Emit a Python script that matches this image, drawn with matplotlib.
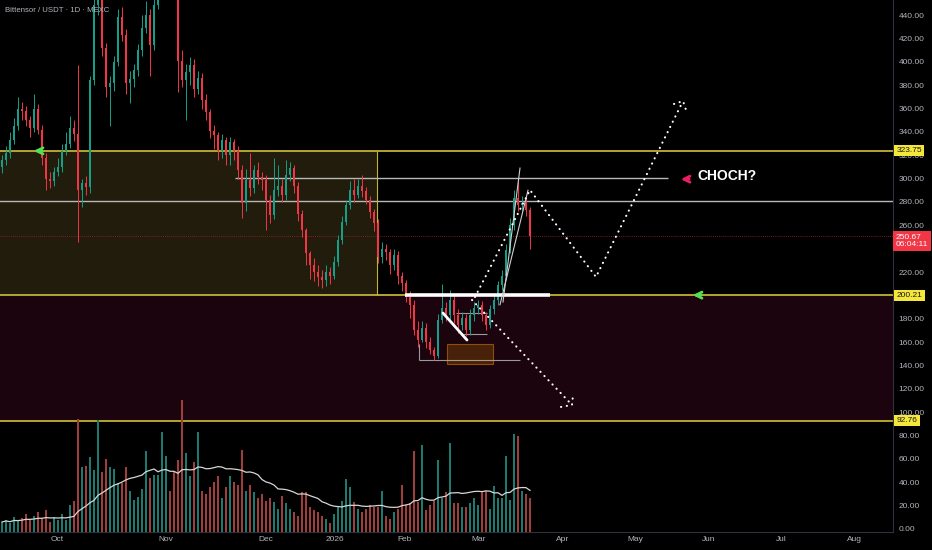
import numpy as np
import pandas as pd
import matplotlib
matplotlib.use("Agg")
import matplotlib.pyplot as plt
import matplotlib.transforms as mtransforms
from matplotlib.patches import Rectangle

# daily candles (bar index 0 = left edge)
first_open = 310
closes = [316, 322, 333, 345, 360, 358, 350, 343, 360, 342,
          318, 300, 298, 306, 310, 324, 330, 343, 338, 290,
          296, 293, 384, 449, 455, 412, 378, 382, 400, 438,
          423, 382, 385, 393, 410, 429, 440, 414, 449, 462,
          475, 490, 480, 470, 401, 384, 391, 397, 377, 386,
          367, 357, 341, 337, 324, 333, 320, 331, 324, 307,
          279, 299, 292, 307, 301, 299, 282, 269, 290, 294,
          286, 303, 309, 294, 270, 256, 236, 226, 220, 216,
          213, 220, 217, 229, 247, 263, 277, 290, 286, 294,
          289, 282, 271, 262, 233, 240, 237, 226, 235, 217,
          211, 199, 192, 170, 162, 172, 160, 153, 148, 179,
          189, 183, 196, 183, 175, 181, 170, 183, 189, 192,
          183, 175, 188, 196, 209, 217, 239, 260, 283, 277,
          279, 273, 250.67]
highs = [320, 328, 340, 352, 370, 366, 362, 354, 372, 364,
         346, 322, 306, 310, 318, 330, 340, 354, 350, 397,
         300, 302, 388, 458, 470, 460, 416, 388, 405, 445,
         447, 428, 392, 398, 415, 440, 452, 445, 460, 475,
         488, 505, 498, 488, 475, 410, 398, 404, 402, 392,
         390, 372, 360, 346, 340, 338, 336, 336, 334, 328,
         312, 308, 322, 312, 314, 306, 303, 286, 318, 312,
         300, 316, 314, 312, 297, 273, 258, 238, 232, 226,
         222, 226, 224, 234, 252, 268, 282, 298, 300, 300,
         303, 293, 285, 274, 265, 246, 244, 240, 240, 238,
         220, 213, 204, 196, 178, 178, 176, 164, 156, 184,
         210, 194, 205, 200, 188, 186, 184, 188, 194, 196,
         195, 186, 192, 200, 212, 222, 244, 266, 290, 300,
         285, 284, 276]
lows = [305, 312, 318, 330, 342, 350, 345, 336, 340, 338,
        312, 290, 292, 294, 302, 306, 320, 326, 332, 246,
        276, 286, 288, 380, 440, 405, 370, 345, 375, 396,
        418, 372, 365, 378, 388, 405, 425, 388, 410, 445,
        455, 470, 468, 458, 374, 378, 350, 380, 370, 372,
        360, 350, 335, 325, 316, 318, 312, 312, 316, 300,
        266, 272, 285, 288, 295, 290, 256, 262, 265, 285,
        280, 282, 298, 288, 264, 250, 226, 214, 212, 208,
        206, 208, 210, 214, 225, 244, 260, 274, 280, 283,
        284, 278, 266, 255, 228, 228, 230, 218, 222, 210,
        204, 194, 181, 166, 156, 160, 155, 150, 145, 146,
        176, 178, 180, 176, 168, 170, 165, 166, 178, 184,
        178, 170, 172, 184, 192, 205, 214, 236, 256, 272,
        272, 268, 240]
volumes = [10, 12, 9, 15, 11, 14, 18, 12, 16, 20,
           14, 22, 10, 15, 12, 18, 12, 27, 31, 113,
           65, 66, 75, 62, 112, 60, 73, 65, 63, 49,
           49, 65, 41, 32, 35, 43, 81, 54, 57, 57,
           100, 76, 41, 60, 72, 132, 79, 56, 70, 100,
           41, 38, 45, 50, 56, 34, 45, 56, 50, 47,
           82, 41, 47, 40, 34, 38, 31, 34, 30, 23,
           36, 29, 23, 20, 16, 40, 40, 25, 22, 20,
           16, 13, 9, 18, 25, 31, 53, 45, 30, 23,
           20, 23, 27, 25, 25, 41, 16, 13, 20, 23,
           47, 27, 29, 81, 30, 87, 22, 27, 31, 72,
           34, 40, 89, 29, 29, 25, 25, 29, 34, 27,
           41, 41, 23, 46, 34, 34, 76, 32, 98, 96,
           41, 38, 34]

month_labels = ["Oct", "Nov", "Dec", "2026", "Feb", "Mar",
                "Apr", "May", "Jun", "Jul", "Aug"]
month_bars = [13.75, 41, 66, 83.25, 100.75, 119.25,
              140.25, 158.25, 176.75, 194.75, 213]

price_ticks = list(range(0, 441, 20))
hidden_ticks = [200, 240]   # covered by the price labels
level_top = 323.75
level_mid = 200.21
level_low = 92.76
level_choch = 300.5
level_grey = 281
last_price = 250.67
countdown = "06:04:11"

# drawings on the chart: (bar, price) anchors
zone_right_bar = 93.75
choch_line_bars = (58.25, 166.5)
break_line_bars = (100.75, 137)
flag_pole = ([110.25, 116.25], [184.9, 161.8])
range_low = (144.7, 104.25, 129.5)
range_lines = [(184.9, 113.5, 121.25), (167.0, 115.25, 121.25)]
ob_box = (111.25, 141.3, 11.5, 17.1)
wedge_a = ([125.25, 129.5], [194.3, 309.0])
wedge_b = ([124.5, 131.5], [192.0, 290.0])
path_up = ([118.25, 132, 148.5, 170.25], [198.6, 290.2, 215.8, 366.4])
head_up = ([168, 170.25, 171.25], [363.9, 366.4, 356.2])
path_down = ([117.5, 142.5], [196.1, 106.2])
head_down = ([139.75, 142.5, 142.75], [104.5, 106.2, 114.7])

BG = "#000000"
TXT = "#b2b5be"
UP = "#14a088"
DOWN = "#f23645"
YEL = "#c2b232"

plt.rcParams['font.family'] = ['Liberation Sans', 'DejaVu Sans']

opens = [first_open] + closes[:-1]
o = np.array(opens, dtype=float)
c = np.array(closes, dtype=float)
x = np.arange(len(c))
up = c >= o

fig = plt.figure(figsize=(9.32, 5.5), dpi=100, facecolor=BG)
ax = fig.add_axes([0, 18 / 550, 893 / 932, 532 / 550], facecolor=BG)
ax.set_xlim(-0.5, -0.5 + 893 / 4)
ax.set_ylim(-2.57, 452.9)

# zones
ax.add_patch(Rectangle((-0.5, level_mid), zone_right_bar + 0.5, level_top - level_mid,
                       facecolor="#211c0c", edgecolor="none", zorder=0.5))
ax.axhspan(level_low, level_mid, color="#1b040e", zorder=0.4, lw=0)
ax.vlines(zone_right_bar, level_mid, level_top, color=YEL, lw=0.8, zorder=1)
for lv in (level_top, level_mid, level_low):
    ax.axhline(lv, color=YEL, lw=1.3, zorder=1)

ax.hlines(level_choch, *choch_line_bars, color="#b8b8b8", lw=1, zorder=1)
ax.axhline(level_grey, color="#b8b8b8", lw=1, zorder=1)
ax.axhline(last_price, color="#a3202f", lw=0.6, ls=(0, (1, 1.5)), zorder=1)

# candles
colors = np.where(up, UP, DOWN)
ax.vlines(x, lows, highs, colors=colors, lw=0.7, zorder=3)
body_lo = np.minimum(o, c)
body_h = np.maximum(np.abs(c - o), 0.8)
ax.bar(x, body_h, bottom=body_lo, width=0.72, color=colors, zorder=3.1, lw=0)

# drawings
ax.hlines(level_mid + 0.1, *break_line_bars, color="white", lw=2.6, zorder=4)
ax.plot(*flag_pole, color="white", lw=2.0, zorder=4, solid_capstyle="round")
ax.hlines(range_low[0], range_low[1], range_low[2], color="#9a9a9a", lw=0.8, zorder=2)
ax.vlines(range_low[1], range_low[0], 158, color="#9a9a9a", lw=0.8, zorder=2)
for lv, b0, b1 in range_lines:
    ax.hlines(lv, b0, b1, color="#9a9a9a", lw=0.8, zorder=2)
ax.add_patch(Rectangle(ob_box[:2], ob_box[2], ob_box[3], facecolor=(1, 0.6, 0, 0.2),
                       edgecolor=(1, 0.6, 0, 0.45), lw=0.8, zorder=2))
ax.plot(*wedge_a, color="#d0d0d0", lw=0.8, zorder=4)
ax.plot(*wedge_b, color="#d0d0d0", lw=0.8, zorder=4)

dots = dict(color="white", lw=1.5, ls=(0, (0.1, 2.7)), dash_capstyle="round", zorder=5)
ax.plot(*path_up, **dots)
ax.plot(*head_up, **dots)
ax.plot(*path_down, **dots)
ax.plot(*head_down, **dots)

arrow = dict(arrowstyle="->", lw=2, mutation_scale=11)
ax.annotate("", xy=(7.25, level_top), xytext=(10.75, level_top),
            arrowprops=dict(color="#55e04f", **arrow), zorder=6)
ax.annotate("", xy=(172, level_mid), xytext=(175.5, level_mid),
            arrowprops=dict(color="#55e04f", **arrow), zorder=6)
ax.annotate("", xy=(169, level_choch - 1), xytext=(172.5, level_choch - 1),
            arrowprops=dict(color="#e91e63", **arrow), zorder=6)
ax.text(173.9, 302, "CHOCH?", color="white", fontsize=10, fontweight="bold",
        va="center", ha="left", zorder=6)

# volume pane overlay
axv = ax.twinx()
axv.set_ylim(0, 532)
vcolors = np.where(up, "#1c7a70", "#a13d3a")
axv.bar(x, volumes, width=0.72, color=vcolors, lw=0)
vol_ma = pd.Series(volumes, dtype=float).rolling(20, min_periods=1).mean()
axv.plot(x, vol_ma, color="#d6d6d6", lw=0.9)
axv.set_yticks([])
for s in axv.spines.values():
    s.set_visible(False)

# axes styling
ax.yaxis.tick_right()
ax.set_yticks(price_ticks)
ax.set_yticklabels(["" if p in hidden_ticks else f"{p:.2f}" for p in price_ticks])
ax.set_xticks(month_bars)
ax.set_xticklabels(month_labels)
ax.tick_params(axis="both", length=0, labelsize=6, colors=TXT)
ax.tick_params(axis="y", pad=4)
ax.tick_params(axis="x", pad=3)
for side in ("top", "left"):
    ax.spines[side].set_visible(False)
for side in ("right", "bottom"):
    ax.spines[side].set_color("#2f323c")
    ax.spines[side].set_linewidth(0.8)

blend = mtransforms.blended_transform_factory(ax.transAxes, ax.transData)
for lv in (level_top, level_mid, level_low):
    ax.text(1.004, lv, f"{lv:.2f}", transform=blend, fontsize=6, color="#131722",
            ha="left", va="center", clip_on=False, zorder=10,
            bbox=dict(boxstyle="square,pad=0.25", fc="#f5e63a", ec="none"))
ax.text(1.003, last_price - 4.2, f"{last_price:.2f}\n{countdown}", transform=blend,
        fontsize=6, color="white", ha="left", va="center", clip_on=False, zorder=10,
        linespacing=1.15, bbox=dict(boxstyle="square,pad=0.3", fc=DOWN, ec="none"))

fig.text(5 / 932, 1 - 10 / 550, "Bittensor / USDT \u00b7 1D \u00b7 MEXC", fontsize=5.6,
         color=TXT, va="center", ha="left")

fig.savefig("out.png", dpi=100, facecolor=BG)
